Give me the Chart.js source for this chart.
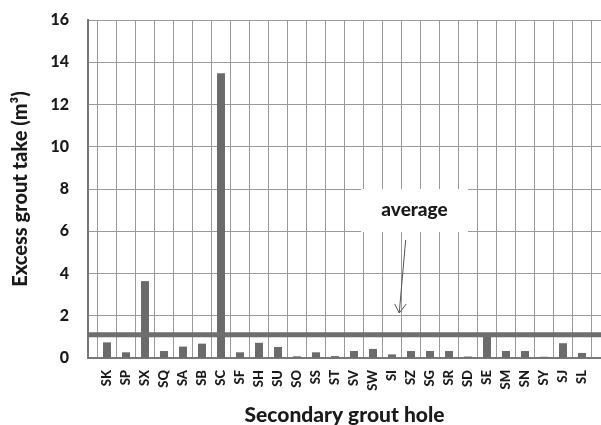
<!DOCTYPE html>
<html><head><meta charset="utf-8">
<script src="https://cdn.jsdelivr.net/npm/chart.js@4"></script>
<style>html,body{margin:0;padding:0;background:#fff}#wrap{width:601px;height:425px}</style>
</head><body><div id="wrap"><canvas id="c" width="601" height="425"></canvas></div>
<script>
const categories = ['SK','SP','SX','SQ','SA','SB','SC','SF','SH','SU','SO','SS','ST','SV','SW','SI','SZ','SG','SR','SD','SE','SM','SN','SY','SJ','SL'];
const groutTake = [0.74,0.27,3.64,0.33,0.54,0.68,13.48,0.27,0.72,0.52,0.08,0.27,0.09,0.33,0.43,0.17,0.33,0.33,0.33,0.07,1.1,0.33,0.33,0.06,0.70,0.24];
const averageValue = 1.1;
const yTickLabels = ['0','2','4','6','8','10','12','14','16'];
const annotationText = 'average';

// one empty slot at each end of the category axis
const labels = [''].concat(categories, ['']);
const barData = [null].concat(groutTake, [null]);
const avgData = labels.map(() => averageValue);

const FONT = 'Lato, "Open Sans", sans-serif';

const annot = {
  id: 'annot',
  afterDatasetsDraw(chart) {
    const {ctx, scales: {x, y}} = chart;
    const px = i => x.getPixelForValue(i + 1);
    ctx.save();
    const x0 = px(13.37), x1 = px(19.0), y0 = y.getPixelForValue(8.0), y1 = y.getPixelForValue(5.96);
    ctx.fillStyle = '#ffffff';
    ctx.fillRect(x0, y0, x1 - x0, y1 - y0);
    ctx.fillStyle = '#1a1a1a';
    ctx.font = '900 19px ' + FONT;
    ctx.textAlign = 'center';
    ctx.textBaseline = 'middle';
    ctx.fillText(annotationText, (x0 + x1) / 2, (y0 + y1) / 2 - 1);
    // arrow
    const sx = px(15.72), sy = y.getPixelForValue(5.59);
    const tx = px(15.38), ty = y.getPixelForValue(2.13);
    ctx.strokeStyle = '#555555';
    ctx.lineWidth = 1;
    ctx.beginPath();
    ctx.moveTo(sx, sy); ctx.lineTo(tx, ty);
    ctx.moveTo(tx - 4.5, ty - 9); ctx.lineTo(tx, ty); ctx.lineTo(tx + 7, ty - 9);
    ctx.stroke();
    ctx.restore();
  }
};

new Chart(document.getElementById('c'), {
  data: {
    labels: labels,
    datasets: [
      {type: 'line', data: avgData, borderColor: '#6e6e6e', borderWidth: 5, pointRadius: 0, fill: false, order: 0},
      {type: 'bar', data: barData, backgroundColor: '#6b6b6b', barPercentage: 0.42, categoryPercentage: 1, order: 1}
    ]
  },
  options: {
    responsive: false,
    animation: false,
    devicePixelRatio: 1,
    layout: {padding: {top: 20, right: 0, left: 0, bottom: 0}},
    plugins: {legend: {display: false}, tooltip: {enabled: false}},
    scales: {
      x: {
        offset: false,
        grid: {color: '#9a9a9a', lineWidth: 1, drawTicks: false},
        border: {color: '#777777', width: 2},
        ticks: {autoSkip: false, minRotation: 90, maxRotation: 90, padding: 12, color: '#1a1a1a', font: {family: FONT, weight: '900', size: 13}},
        title: {display: true, text: 'Secondary grout hole', color: '#1a1a1a', font: {family: FONT, weight: '900', size: 21}, padding: {top: 0, bottom: -3}},
        afterFit: s => { s.height = 67; s.paddingRight = 0; s.paddingLeft = 0; }
      },
      y: {
        min: 0, max: 16,
        grid: {color: '#9a9a9a', lineWidth: 1, drawTicks: false},
        border: {color: '#777777', width: 2},
        ticks: {stepSize: 2, padding: 19, color: '#1a1a1a', font: {family: FONT, weight: '900', size: 16},
          callback: (v, i) => yTickLabels[i]},
        title: {display: true, text: 'Excess grout take (m³)', color: '#1a1a1a', font: {family: FONT, weight: '900', size: 20}, padding: {top: 9, bottom: 0}},
        afterFit: s => { s.width = 88; s.paddingTop = 0; s.paddingBottom = 0; }
      }
    }
  },
  plugins: [annot]
});
</script>
</body></html>
